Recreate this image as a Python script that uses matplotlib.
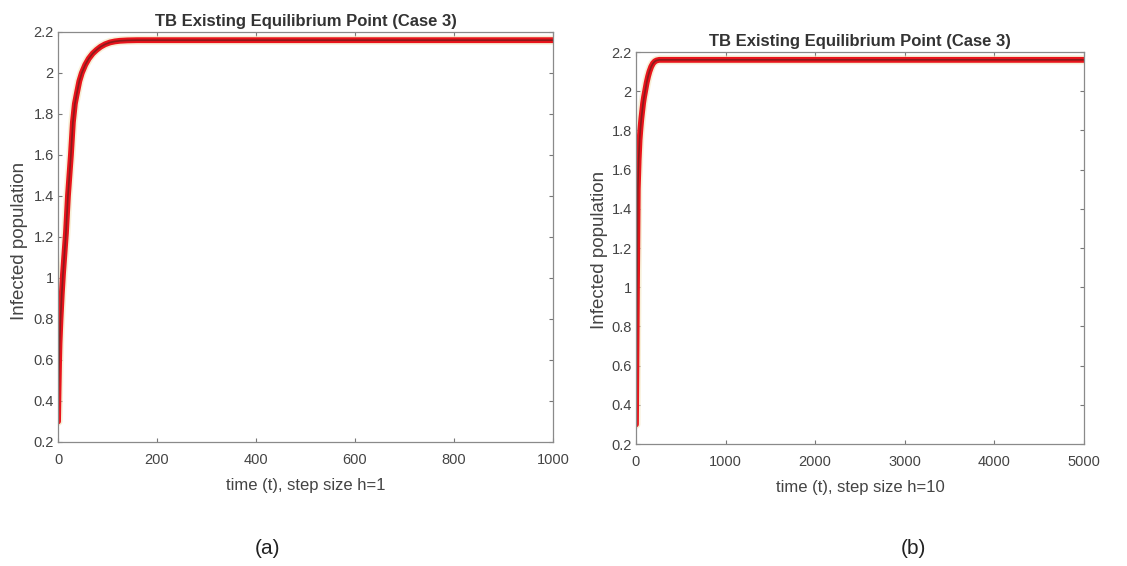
import matplotlib
matplotlib.use("Agg")
import matplotlib.pyplot as plt

plt.rcParams['font.family'] = ['Liberation Sans', 'DejaVu Sans']

# Panel (a): step size h=1
t_a = [0, 1, 2, 3, 5, 7.5, 10, 13, 16, 20, 26, 30, 34, 38, 43, 48, 55, 62, 70, 78, 86, 95, 105, 115, 125, 140, 160, 200, 1000]
y_a = [0.3, 0.45, 0.58, 0.68, 0.8, 0.92, 1.02, 1.12, 1.22, 1.4, 1.6, 1.76, 1.85, 1.9, 1.96, 2.0, 2.04, 2.07, 2.095, 2.113, 2.128, 2.14, 2.149, 2.154, 2.157, 2.159, 2.16, 2.16, 2.16]

# Panel (b): step size h=10
t_b = [0, 10, 20, 30, 40, 50, 60, 70, 80, 90, 100, 110, 120, 135, 150, 170, 190, 210, 230, 260, 300, 5000]
y_b = [0.3, 0.95, 1.5, 1.65, 1.75, 1.81, 1.86, 1.9, 1.94, 1.97, 1.995, 2.02, 2.045, 2.075, 2.1, 2.125, 2.142, 2.152, 2.157, 2.16, 2.16, 2.16]

title = "TB Existing Equilibrium Point (Case 3)"
ylabel = "Infected population"
xlabel_a = "time (t), step size h=1"
xlabel_b = "time (t), step size h=10"
xticks_a = [0, 200, 400, 600, 800, 1000]
xticks_b = [0, 1000, 2000, 3000, 4000, 5000]
yticks = [0.2, 0.4, 0.6, 0.8, 1, 1.2, 1.4, 1.6, 1.8, 2, 2.2]

fig = plt.figure(figsize=(11.27, 5.66), dpi=100)
ax_a = fig.add_axes([0.0515, 0.2191, 0.4392, 0.7244])
ax_b = fig.add_axes([0.5643, 0.2155, 0.3975, 0.6926])

def style(ax, t, y, xticks, xmax, xlabel):
    ax.plot(t, y, color='#f0e0b0', lw=6.5, alpha=0.5, solid_capstyle='round')
    ax.plot(t, y, color='#e8141c', lw=4.2, solid_capstyle='round')
    ax.plot(t, y, color='#8b1a1a', lw=1.2)
    ax.set_xlim(0, xmax)
    ax.set_ylim(0.2, 2.2)
    ax.set_xticks(xticks)
    ax.set_xticklabels([str(v) for v in xticks])
    ax.set_yticks(yticks)
    ax.set_yticklabels([('%g' % v) for v in yticks])
    ax.tick_params(direction='in', length=3, colors='#777777', labelcolor='#444444',
                   labelsize=10.5, top=True, right=True)
    ax.tick_params(axis='x', pad=8)
    ax.tick_params(axis='y', pad=3)
    for s in ax.spines.values():
        s.set_color('#8a8a8a')
        s.set_linewidth(0.9)
    ax.set_title(title, fontsize=12, fontweight='bold', color='#333333', pad=4)
    ax.set_xlabel(xlabel, fontsize=12, color='#444444', labelpad=8)
    ax.set_ylabel(ylabel, fontsize=13.5, color='#444444')

style(ax_a, t_a, y_a, xticks_a, 1000, xlabel_a)
style(ax_b, t_b, y_b, xticks_b, 5000, xlabel_b)
ax_a.yaxis.set_label_coords(28 / 1127, 1 - 241 / 566, transform=fig.transFigure)
ax_b.yaxis.set_label_coords(608 / 1127, 1 - 250 / 566, transform=fig.transFigure)

fig.text(268 / 1127, 1 - 548 / 566, "(a)", fontsize=15, ha='center', va='center', color='#222222')
fig.text(913 / 1127, 1 - 548 / 566, "(b)", fontsize=15, ha='center', va='center', color='#222222')

fig.savefig("out.png", dpi=100)
